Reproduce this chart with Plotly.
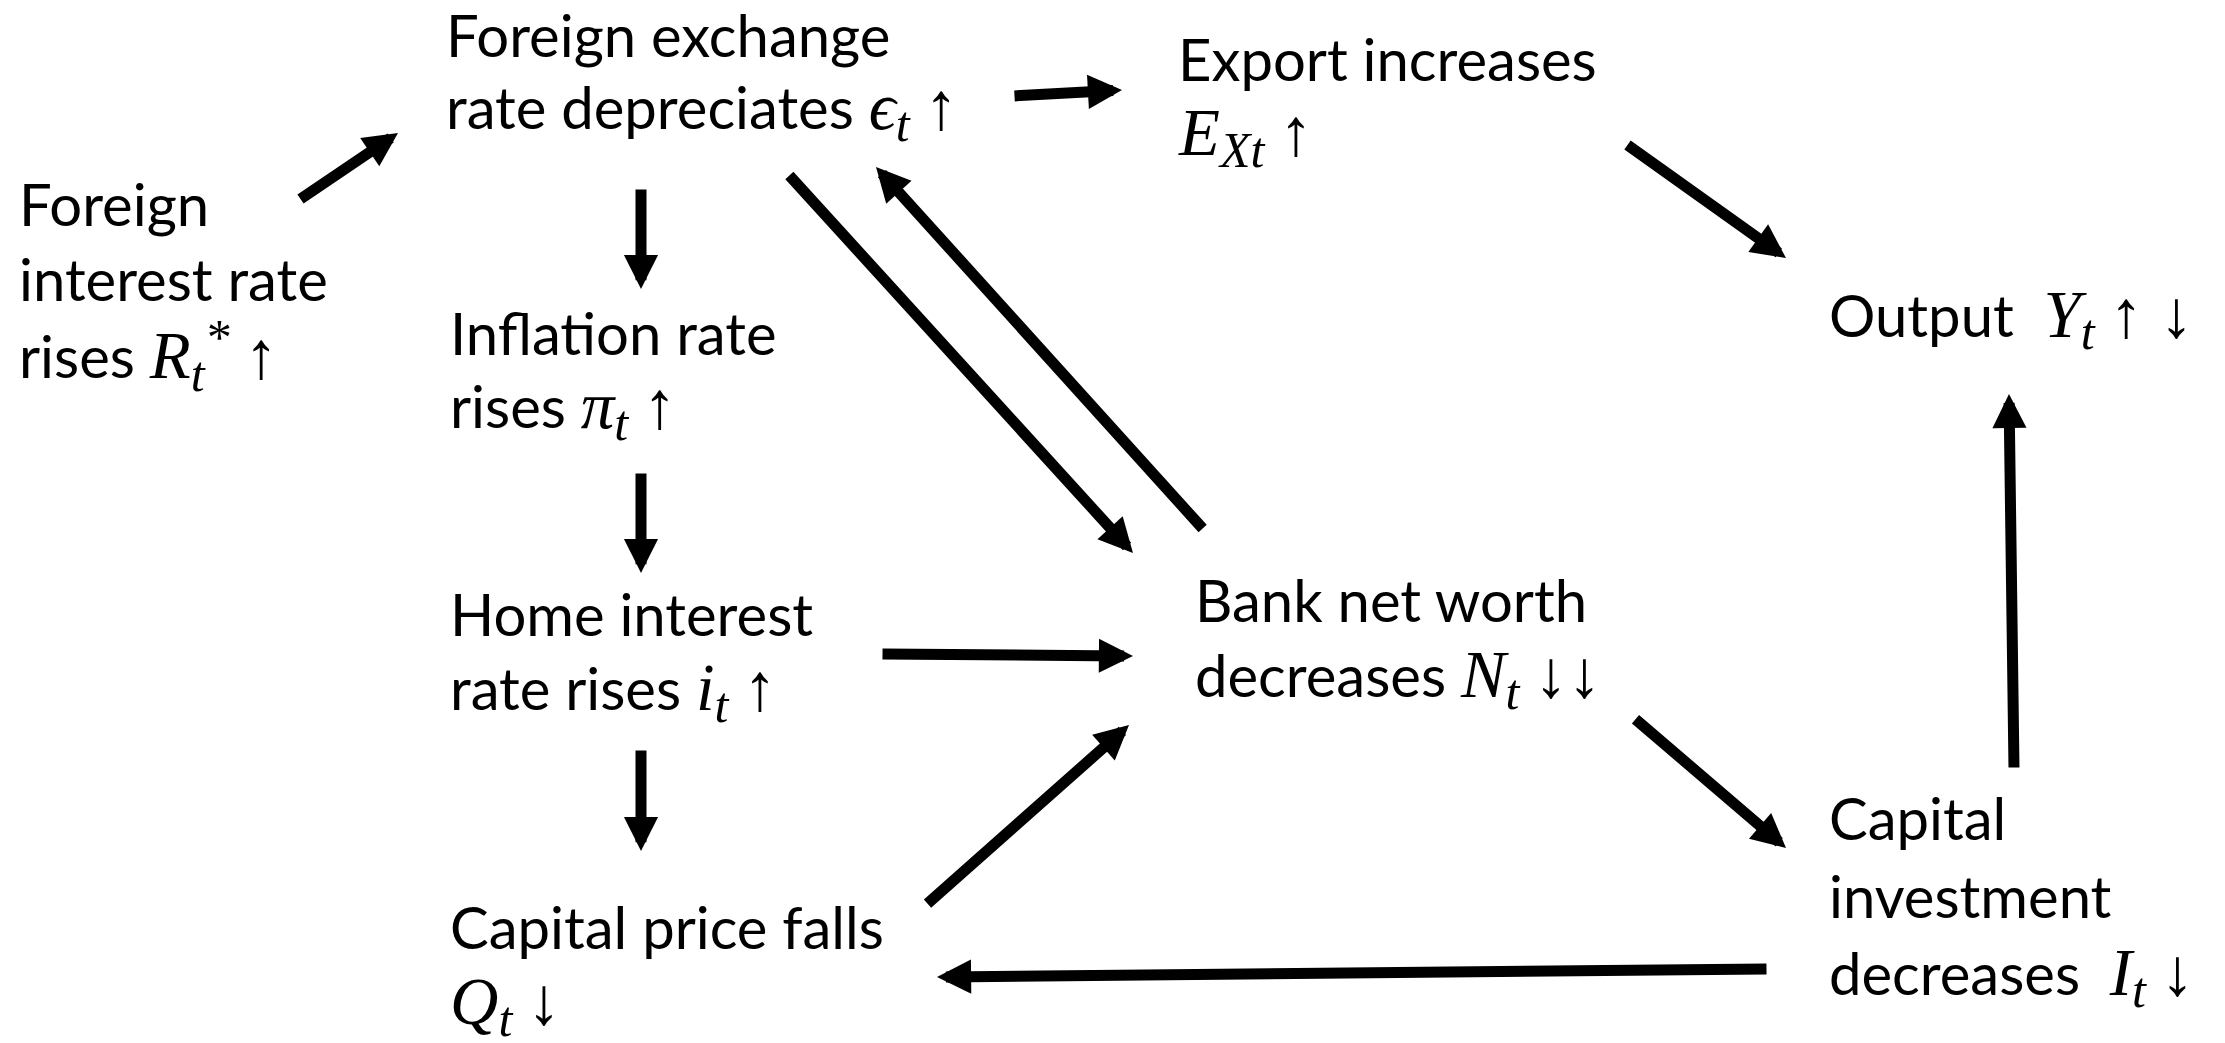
import plotly.graph_objects as go

W, H = 2225, 1043
TEXT_FONT = "Lato"
MATH_FONT = "Liberation Serif"
FS = 58
MS = 67   # math size
SS = 50   # subscript math size


def m(s, size=MS):
    return f'<span style="font-family:{MATH_FONT};font-size:{size}px"><i>{s}</i></span>'


def sub(s):
    return "<sub>" + m(s, SS) + "</sub>"


def sym(s):
    return f'<span style="font-family:{MATH_FONT};font-size:{MS}px">{s}</span>'


# Node labels (each a list of lines)
labels = [
    ["Foreign", "interest rate", "rises " + m("R") + sub("t") + "<sup>" + m("*", SS) + "</sup> " + sym("↑")],
    ["Foreign exchange", "rate depreciates " + m("ϵ") + sub("t") + " " + sym("↑")],
    ["Export increases", m("E") + sub("Xt") + " " + sym("↑")],
    ["Inflation rate", "rises " + m("π") + sub("t") + " " + sym("↑")],
    ["Home interest", "rate rises " + m("i") + sub("t") + " " + sym("↑")],
    ["Capital price falls", m("Q") + sub("t") + " " + sym("↓")],
    ["Bank net worth", "decreases " + m("N") + sub("t") + " " + sym("↓↓")],
    ["Output  " + m("Y") + sub("t") + " " + sym("↑ ↓")],
    ["Capital", "investment", "decreases  " + m("I") + sub("t") + " " + sym("↓")],
]

# layout positions (left x, centre y of each line)
label_x = [9, 436, 1168, 440, 440, 440, 1185, 1819, 1819]
label_y = [
    [195, 270, 347],
    [26, 102],
    [50, 128],
    [324, 401],
    [605, 683],
    [918, 997],
    [591, 670],
    [310],
    [809, 887, 968],
]

# arrows: (tail x, tail y, head x, head y)
arrows = [
    (291, 192, 390, 125),
    (1005, 88, 1114, 82),
    (633, 180, 633, 281),
    (633, 464, 633, 565),
    (633, 741, 633, 843),
    (780, 166, 1125, 545),
    (1196, 522, 868, 159),
    (1618, 136, 1778, 250),
    (873, 646, 1125, 648),
    (918, 897, 1121, 717),
    (1626, 710, 1778, 840),
    (2006, 761, 2001, 386),
    (1760, 961, 929, 969),
]

fig = go.Figure()
fig.add_trace(go.Scatter(x=[0, W], y=[0, H], mode="markers",
                         marker=dict(opacity=0), hoverinfo="skip", showlegend=False))

ann = []
for lines, x, ys in zip(labels, label_x, label_y):
    for line, y in zip(lines, ys):
        ann.append(dict(x=x, y=y, xref="x", yref="y", text=line, showarrow=False,
                        xanchor="left", yanchor="middle", align="left",
                        font=dict(family=TEXT_FONT, size=FS, color="black")))

for tx, ty, hx, hy in arrows:
    ann.append(dict(x=hx, y=hy, ax=tx, ay=ty, xref="x", yref="y", axref="x", ayref="y",
                    text="", showarrow=True, arrowhead=2, arrowsize=0.62, arrowwidth=11,
                    arrowcolor="black", standoff=0, startstandoff=0))

fig.update_layout(
    width=W, height=H,
    margin=dict(l=0, r=0, t=0, b=0),
    paper_bgcolor="white", plot_bgcolor="white",
    xaxis=dict(range=[0, W], visible=False, fixedrange=True),
    yaxis=dict(range=[H, 0], visible=False, fixedrange=True),
    annotations=ann,
    showlegend=False,
)

fig.write_html("out.html")
